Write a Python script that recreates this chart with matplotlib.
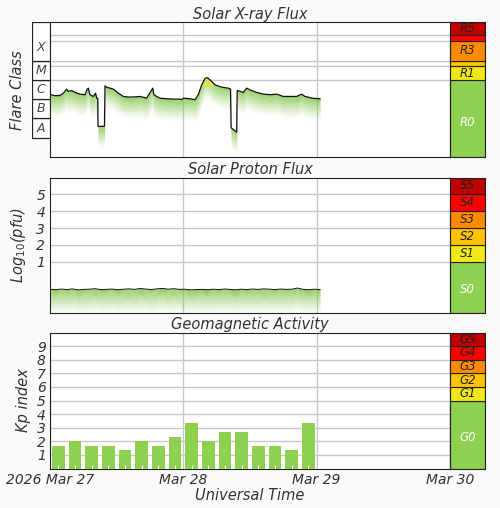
import matplotlib
matplotlib.use("Agg")
import matplotlib.pyplot as plt
import numpy as np
from matplotlib.patches import Rectangle

# ---------------- data ----------------
xray_hours = [0.1,0.9,1.8,2.4,3.0,3.3,3.9,4.5,5.4,6.3,6.7,6.9,7.2,7.8,8.2,8.4,8.6,8.64,9.8,9.9,10.2,11.4,12.3,
              13.2,14.1,15.0,16.2,17.4,18.3,18.5,18.7,19.2,19.8,21.0,22.2,23.4,23.7,24.0,25.2,26.1,26.7,27.3,
              27.9,28.3,28.8,29.7,30.9,32.1,32.5,32.6,33.6,33.7,34.8,35.4,36.0,37.2,38.4,39.6,40.8,42.0,43.2,
              44.4,45.3,45.9,47.4,48.6]
xray_log = [-5.77,-5.82,-5.81,-5.69,-5.48,-5.60,-5.55,-5.65,-5.74,-5.77,-5.48,-5.43,-5.77,-5.86,-5.69,-5.95,-5.96,
            -7.41,-7.41,-5.31,-5.38,-5.48,-5.69,-5.86,-5.89,-5.89,-5.86,-5.95,-5.52,-5.43,-5.77,-5.86,-5.95,-5.98,
            -6.0,-6.0,-6.03,-5.95,-5.98,-6.03,-5.77,-5.26,-4.93,-4.88,-5.0,-5.26,-5.38,-5.43,-5.48,-7.49,-7.71,
            -5.55,-5.65,-5.43,-5.52,-5.65,-5.74,-5.77,-5.74,-5.86,-5.86,-5.86,-5.74,-5.86,-5.96,-5.98]

proton_log = [-0.62,-0.65,-0.61,-0.64,-0.60,-0.66,-0.63,-0.62,-0.59,-0.64,-0.63,-0.61,-0.65,-0.62,-0.60,-0.63,
              -0.58,-0.61,-0.64,-0.60,-0.57,-0.62,-0.59,-0.63,-0.62,-0.66,-0.64,-0.63,-0.65,-0.62,-0.64,-0.61,
              -0.63,-0.66,-0.62,-0.64,-0.61,-0.63,-0.60,-0.62,-0.64,-0.61,-0.63,-0.62,-0.55,-0.63,-0.65,-0.62,-0.64]
proton_hours = list(np.linspace(0, 48.6, len(proton_log)))

kp_values = [1.67,2.0,1.67,1.67,1.33,2.0,1.67,2.33,3.33,2.0,2.67,2.67,1.67,1.67,1.33,3.33]

xtick_labels = ["2026 Mar 27", "Mar 28", "Mar 29", "Mar 30"]
r_bands = [(-9, -5.0, "#8ed04f", "R0"), (-5.0, -4.3, "#f0e818", "R1"), (-4.3, -4.0, "#ffc400", ""),
           (-4.0, -3.0, "#ff8c00", "R3"), (-3.0, -2.7, "#ff0000", ""), (-2.7, -2.0, "#c00000", "R5")]
s_bands = [(-2, 1, "#8ed04f", "S0"), (1, 2, "#f0e818", "S1"), (2, 3, "#ffc400", "S2"),
           (3, 4, "#ff8c00", "S3"), (4, 5, "#ff0000", "S4"), (5, 6, "#c00000", "S5")]
g_bands = [(0, 5, "#8ed04f", "G0"), (5, 6, "#f0e818", "G1"), (6, 7, "#ffc400", "G2"),
           (7, 8, "#ff8c00", "G3"), (8, 9, "#ff0000", "G4"), (9, 10, "#c00000", "G5")]
class_labels = ["A", "B", "C", "M", "X"]

# ---------------- figure ----------------
W, H = 500, 508
fig = plt.figure(figsize=(W/100, H/100), dpi=100, facecolor="#fafafa")
plt.rcParams['font.family'] = ['DejaVu Sans']
TXT = "#333333"
GREEN = "#7cc242"

def rect(x0, y0, x1, y1):
    return [x0/W, 1-y1/H, (x1-x0)/W, (y1-y0)/H]

def main_axes(y0, y1, ylim, title):
    ax = fig.add_axes(rect(50, y0, 450, y1))
    ax.set_xlim(0, 72)
    ax.set_ylim(*ylim)
    ax.set_facecolor("white")
    ax.set_xticks([24, 48])
    ax.tick_params(length=0, labelbottom=False, labelleft=False)
    ax.grid(axis='x', color="#c8c8c8", lw=1)
    ax.set_title(title, fontsize=10.5, style='italic', color=TXT, pad=2)
    for s in ax.spines.values():
        s.set_color("#222222")
    ax.set_axisbelow(True)
    return ax

def side_axes(y0, y1, bands, ylim):
    ax = fig.add_axes(rect(450, y0, 485, y1))
    ax.set_xlim(0, 1)
    ax.set_ylim(*ylim)
    ax.set_xticks([]); ax.set_yticks([])
    for lo, hi, c, lab in bands:
        ax.add_patch(Rectangle((0, lo), 1, hi-lo, facecolor=c, edgecolor="#222222", lw=0.8))
        if lab:
            col = "white" if lab.endswith("0") else "#222222"
            ax.text(0.5, (lo+hi)/2 if not lab.endswith("0") else lo + (hi-lo)*0.45, lab,
                    ha='center', va='center', style='italic', fontsize=8.5, color=col)
    for s in ax.spines.values():
        s.set_color("#222222")
    return ax

def fade_fill(ax, x, y, length, bottom=None, n=25, color=GREEN):
    y = np.asarray(y)
    for k in range(n):
        top = y - k*length/n
        bot = y - (k+1)*length/n
        if bottom is not None:
            top = np.maximum(top, bottom); bot = np.maximum(bot, bottom)
        ax.fill_between(x, bot, top, color=color, alpha=0.9*(1-k/n)**1.3, lw=0)

# ---- X-ray ----
ax1 = main_axes(22, 157, (-9, -2), "Solar X-ray Flux")
for yv in [-2.7, -3.0, -4.0, -4.3, -5.0]:
    ax1.axhline(yv, color="#c8c8c8", lw=1)
fade_fill(ax1, xray_hours, xray_log, 1.1)
xl = np.array(xray_log)
ax1.fill_between(xray_hours, np.minimum(xl, -5.3), np.where(xl > -5.2, xl, np.minimum(xl, -5.3)),
                 color="#f2e82a", alpha=0.8, lw=0)
ax1.plot(xray_hours, xray_log, color="#111111", lw=0.9)
side_axes(22, 157, r_bands, (-9, -2))

# class label boxes
axc = fig.add_axes(rect(32, 22, 50, 157))
axc.set_xlim(0, 1); axc.set_ylim(-9, -2); axc.axis('off')
for i, lab in enumerate(class_labels):
    lo = -8 + i
    hi = lo + 1 if lab != "X" else -2
    axc.add_patch(Rectangle((0, lo), 1, hi-lo, facecolor="white", edgecolor="#222222", lw=0.9))
    axc.text(0.5, lo+0.5 if lab != "X" else -3.3, lab, ha='center', va='center',
             style='italic', fontsize=9, color="#444444")
fig.text(18/W, 1-90/H, "Flare Class", rotation=90, ha='center', va='center',
         style='italic', fontsize=10.5, color=TXT)

# ---- Proton ----
ax2 = main_axes(177.5, 312.5, (-2, 6), "Solar Proton Flux")
ax2.set_yticks([1, 2, 3, 4, 5])
ax2.tick_params(labelleft=True, labelsize=10, labelcolor=TXT)
for t in ax2.get_yticklabels():
    t.set_style('italic')
ax2.grid(axis='y', color="#c8c8c8", lw=1)
fade_fill(ax2, proton_hours, proton_log, 1.4, bottom=-2)
ax2.plot(proton_hours, proton_log, color="#111111", lw=0.7)
ax2.set_ylabel("Log$_{10}$(pfu)", style='italic', fontsize=10.5, color=TXT, labelpad=6)
side_axes(177.5, 312.5, s_bands, (-2, 6))

# ---- Kp ----
ax3 = main_axes(332.5, 468.5, (0, 10), "Geomagnetic Activity")
ax3.set_yticks(range(1, 10))
ax3.tick_params(labelleft=True, labelsize=10, labelcolor=TXT)
for t in ax3.get_yticklabels():
    t.set_style('italic')
ax3.grid(axis='y', color="#c8c8c8", lw=1)
centers = np.arange(len(kp_values))*3 + 1.5
ax3.bar(centers, kp_values, width=2.3, color="#8ed04f", zorder=3)
ax3.vlines(centers, 0, 0.25, color="white", lw=0.8, zorder=4)
ax3.set_ylabel("Kp index", style='italic', fontsize=10.5, color=TXT, labelpad=4)
ax3.set_xticks([0, 24, 48, 72])
ax3.set_xticklabels(xtick_labels)
ax3.tick_params(labelbottom=True, labelsize=10, labelcolor=TXT, pad=3)
for t in ax3.get_xticklabels():
    t.set_style('italic')
ax3.set_xlabel("Universal Time", style='italic', fontsize=10.5, color=TXT, labelpad=1)
side_axes(332.5, 468.5, g_bands, (0, 10))

fig.savefig("out.png", dpi=100, facecolor=fig.get_facecolor())
